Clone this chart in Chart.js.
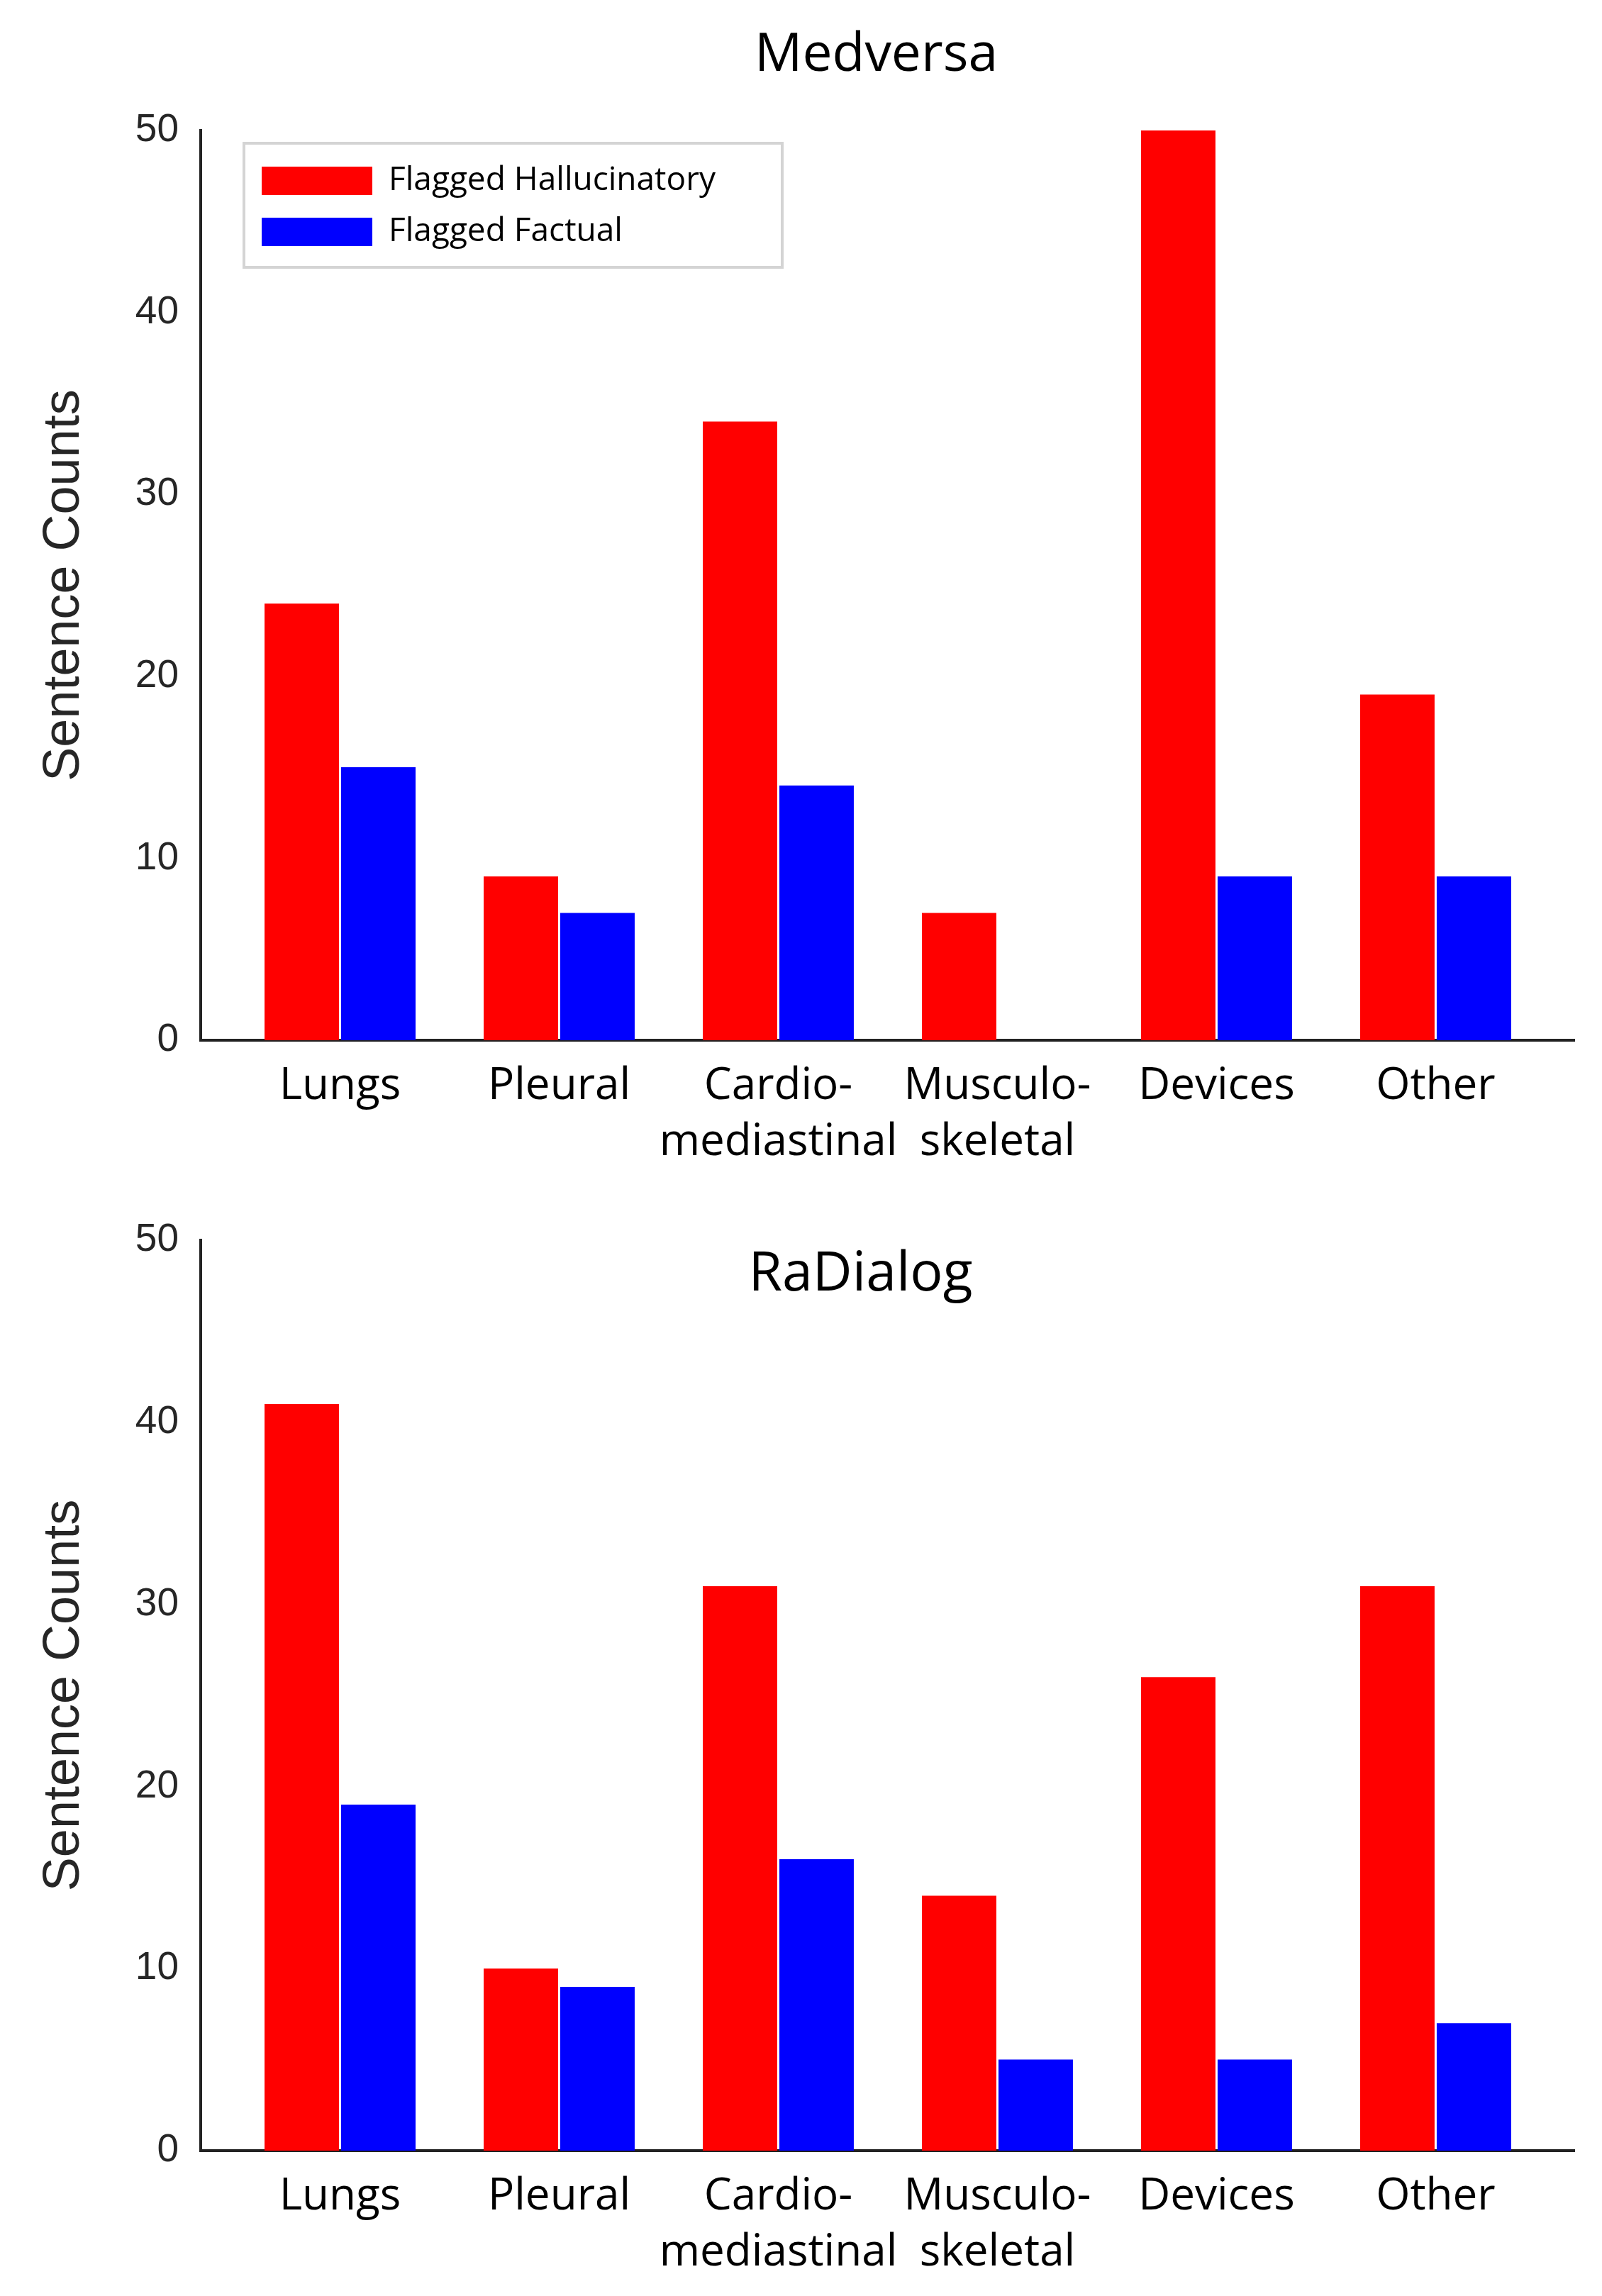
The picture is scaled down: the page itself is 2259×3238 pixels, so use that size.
<!DOCTYPE html>
<html>
<head>
<meta charset="utf-8">
<script src="https://cdn.jsdelivr.net/npm/chart.js@4.4.1/dist/chart.umd.min.js"></script>
<style>
  html, body { margin: 0; padding: 0; background: #ffffff; }
  canvas { display: block; }
</style>
</head>
<body>
<canvas id="top" width="2259" height="1640"></canvas>
<canvas id="bottom" width="2259" height="1598"></canvas>
<script>
// ---- data ----
const categories = ['Lungs', 'Pleural', 'Cardio-mediastinal', 'Musculo-skeletal', 'Devices', 'Other'];
const tickLabels = [['Lungs'], ['Pleural'], ['Cardio-', 'mediastinal'], ['Musculo-', 'skeletal'], ['Devices'], ['Other']];
const seriesNames = ['Flagged Hallucinatory', 'Flagged Factual'];
const medversaHallucinatory = [24, 9, 34, 7, 50, 19];
const medversaFactual = [15, 7, 14, 0, 9, 9];
const radialogHallucinatory = [41, 10, 31, 14, 26, 31];
const radialogFactual = [19, 9, 16, 5, 5, 7];
const yTicks = [0, 10, 20, 30, 40, 50];
const chartTitles = ['Medversa', 'RaDialog'];
const yAxisTitle = 'Sentence Counts';

const RED = '#FF0000';
const BLUE = '#0000FF';
const AXIS = '#222222';

function toPoints(values) {
  return values.map((v, i) => ({ x: i, y: v }));
}

// Moves the chartArea legend / title block to their place and draws the legend frame
const placement = {
  id: 'placement',
  afterLayout(chart, args, opts) {
    const ca = chart.chartArea;
    const lg = chart.legend;
    if (lg && lg.options.display) {
      lg.left = ca.left + opts.legendDx;
      lg.right = lg.left + lg.width;
      lg.top = ca.top + opts.legendDy;
      lg.bottom = lg.top + lg.height;
    }
    const tb = chart.titleBlock;
    if (tb && tb.options.display && opts.titleDx) {
      tb.left += opts.titleDx;
      tb.right += opts.titleDx;
    }
  },
  afterDraw(chart, args, opts) {
    const lg = chart.legend;
    if (!lg || !lg.options.display) return;
    const ctx = chart.ctx;
    ctx.save();
    ctx.strokeStyle = '#d4d4d4';
    ctx.lineWidth = 4;
    ctx.strokeRect(lg.left + opts.frame[0], lg.top + opts.frame[1], opts.frame[2], opts.frame[3]);
    ctx.restore();
  }
};

// Title drawn inside the plot area
const innerTitle = {
  id: 'innerTitle',
  afterDraw(chart, args, opts) {
    if (!opts || !opts.text) return;
    const ctx = chart.ctx;
    const ca = chart.chartArea;
    ctx.save();
    ctx.font = opts.size + 'px "Open Sans"';
    ctx.fillStyle = '#000000';
    ctx.textAlign = 'center';
    ctx.textBaseline = 'alphabetic';
    ctx.fillText(opts.text, (ca.left + ca.right) / 2 + opts.dx, ca.top + opts.dy);
    ctx.restore();
  }
};

function makeChart(canvasId, hall, fact, cfg) {
  return new Chart(document.getElementById(canvasId), {
    type: 'bar',
    data: {
      datasets: [
        { label: seriesNames[0], data: toPoints(hall), backgroundColor: RED, borderWidth: 0,
          categoryPercentage: 0.699, barPercentage: 0.972 },
        { label: seriesNames[1], data: toPoints(fact), backgroundColor: BLUE, borderWidth: 0,
          categoryPercentage: 0.699, barPercentage: 0.972 }
      ]
    },
    options: {
      responsive: false,
      animation: false,
      devicePixelRatio: 1,
      layout: { padding: { left: 20, right: 39, top: cfg.padTop, bottom: 0 } },
      plugins: {
        tooltip: { enabled: false },
        title: cfg.title ? {
          display: true,
          text: cfg.title,
          fullSize: false,
          color: '#000000',
          font: { family: 'Open Sans', size: 75, weight: 'normal', lineHeight: 1.2 },
          padding: { top: 34, bottom: 60 }
        } : { display: false },
        legend: cfg.legend ? {
          display: true,
          position: 'chartArea',
          align: 'start',
          labels: {
            boxWidth: 156,
            boxHeight: 40,
            padding: 26,
            color: '#000000',
            font: { family: 'Open Sans', size: 46 }
          }
        } : { display: false },
        placement: { legendDx: 60, legendDy: 22, titleDx: -16, frame: [1, -4, 759, 175] },
        innerTitle: cfg.innerTitle || {}
      },
      scales: {
        x: {
          type: 'linear',
          offset: false,
          min: -0.636,
          max: 5.633,
          grid: { display: false, drawTicks: false, offset: false },
          border: { display: true, color: AXIS, width: 4 },
          afterBuildTicks: (scale) => { scale.ticks = categories.map((c, i) => ({ value: i })); },
          afterFit: (scale) => { scale.height = cfg.xHeight; },
          ticks: {
            autoSkip: false,
            maxRotation: 0,
            minRotation: 0,
            padding: 26,
            color: '#000000',
            font: { family: 'Open Sans', size: 62, lineHeight: 1.27 },
            callback: (v) => tickLabels[v]
          }
        },
        y: {
          min: 0,
          max: 50,
          afterBuildTicks: (scale) => { scale.ticks = yTicks.map(v => ({ value: v })); },
          afterFit: (scale) => { scale.width = 263; },
          grid: { display: false, drawTicks: false },
          border: { display: true, color: AXIS, width: 4 },
          ticks: {
            padding: 31,
            color: '#262626',
            font: { family: 'Liberation Sans', size: 55 }
          },
          title: {
            display: true,
            text: yAxisTitle,
            color: '#262626',
            font: { family: 'Liberation Sans', size: 72, lineHeight: 1.2 },
            padding: { top: 28, bottom: 0 }
          }
        }
      }
    },
    plugins: [placement, innerTitle]
  });
}

function drawAll() {
  makeChart('top', medversaHallucinatory, medversaFactual, {
    title: chartTitles[0], legend: true, padTop: 0, xHeight: 173
  });
  makeChart('bottom', radialogHallucinatory, radialogFactual, {
    title: null, legend: false, padTop: 109, xHeight: 205,
    innerTitle: { text: chartTitles[1], size: 77, dx: -38, dy: 71 }
  });
}

if (document.fonts && document.fonts.load) {
  Promise.all([
    document.fonts.load('61px "Open Sans"'),
    document.fonts.load('55px "Liberation Sans"')
  ]).then(drawAll, drawAll);
} else {
  drawAll();
}
</script>
</body>
</html>
